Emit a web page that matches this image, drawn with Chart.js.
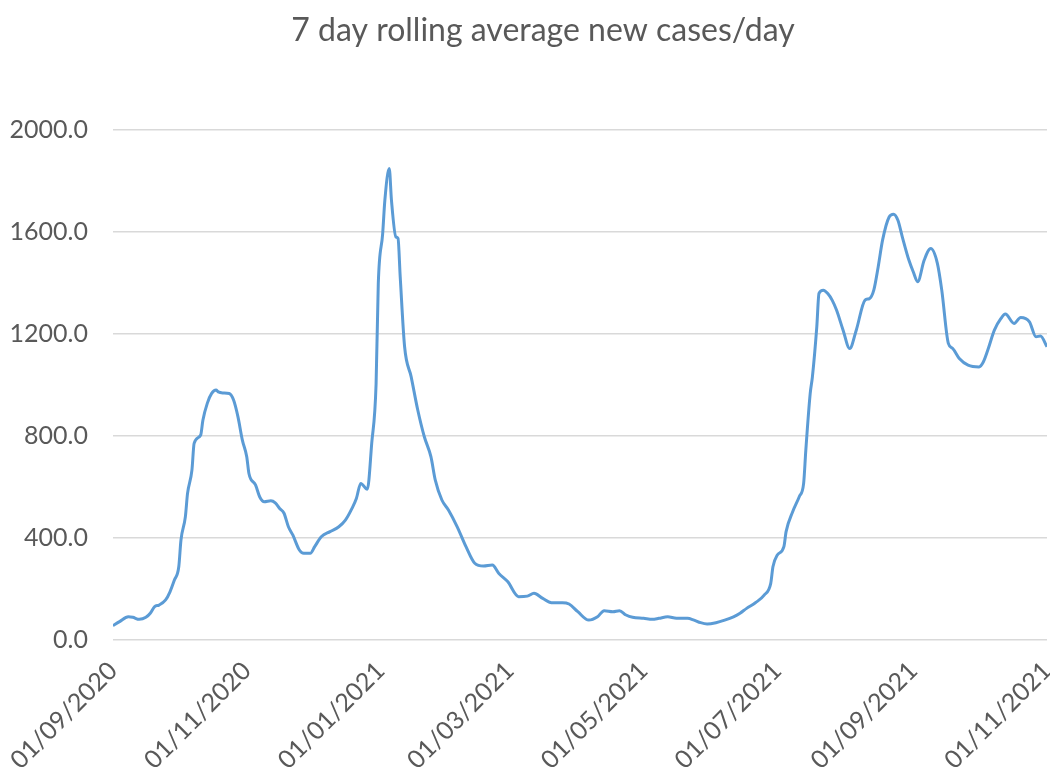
<!DOCTYPE html>
<html>
<head>
<meta charset="utf-8">
<script src="https://cdn.jsdelivr.net/npm/chart.js@4.4.0/dist/chart.umd.min.js"></script>
<style>
  html, body { margin: 0; padding: 0; background: #ffffff; }
  #wrap { width: 1050px; height: 775px; position: relative; }
</style>
</head>
<body>
<div id="wrap"><canvas id="chart" width="1050" height="775"></canvas></div>
<script>
// Days counted from 01/09/2020, with the 7-day rolling average on those days
const caseDays = [
  0, 3, 7, 9, 12, 15, 17, 19, 21, 24, 26, 28, 30, 31, 33, 34, 36, 37, 40, 41,
  43, 45, 47, 48, 50, 53, 55, 57, 59, 61, 62, 65, 67, 69, 72, 74, 76, 78, 80, 82,
  85, 87, 90, 92, 95, 99, 103, 106, 109, 111, 113, 116, 118, 120, 121, 123, 124, 126, 127, 129,
  130, 131, 133, 136, 139, 142, 145, 147, 150, 153, 157, 161, 165, 169, 173, 176, 180, 185, 189, 192,
  196, 200, 205, 208, 212, 217, 221, 224, 228, 231, 234, 237, 242, 246, 249, 253, 257, 262, 265, 268,
  271, 275, 279, 283, 286, 289, 293, 297, 300, 301, 303, 306, 307, 310, 313, 315, 316, 318, 319, 321,
  322, 324, 326, 328, 330, 333, 336, 339, 343, 345, 347, 349, 351, 354, 356, 358, 360, 363, 365, 367,
  370, 373, 376, 378, 381, 383, 386, 390, 395, 397, 399, 402, 405, 407, 411, 414, 418, 421, 423, 426
];
const caseValues = [
  56, 72, 91, 89, 81, 89, 105, 131, 137, 157, 189, 235, 287, 392, 483, 575, 666, 771, 804, 862,
  928, 967, 980, 973, 969, 967, 941, 875, 784, 719, 653, 608, 560, 542, 546, 538, 516, 497, 444, 412,
  353, 340, 340, 366, 405, 425, 444, 470, 516, 555, 614, 591, 771, 1006, 1398, 1594, 1725, 1849, 1725, 1581,
  1575, 1424, 1150, 1032, 902, 797, 719, 627, 549, 510, 444, 366, 301, 290, 294, 261, 229, 170, 172, 183,
  163, 146, 146, 141, 111, 78, 91, 115, 111, 115, 98, 89, 85, 81, 85, 91, 85, 85, 78, 68,
  63, 68, 78, 91, 105, 124, 146, 176, 222, 287, 333, 366, 425, 503, 562, 614, 745, 967, 1032, 1228,
  1359, 1372, 1359, 1333, 1294, 1215, 1143, 1215, 1333, 1339, 1372, 1463, 1568, 1659, 1670, 1646, 1581, 1490, 1444, 1405,
  1490, 1535, 1477, 1372, 1163, 1143, 1104, 1078, 1071, 1091, 1137, 1215, 1261, 1278, 1241, 1265, 1248, 1189, 1192, 1150
];

// Month starts shown on the date axis
const tickDays = [0, 61, 122, 181, 242, 303, 365, 426];
const tickLabels = ['01/09/2020', '01/11/2020', '01/01/2021', '01/03/2021',
                    '01/05/2021', '01/07/2021', '01/09/2021', '01/11/2021'];
const yTicks = [0, 400, 800, 1200, 1600, 2000];
const chartTitle = '7 day rolling average new cases/day';

const textColor = '#595959';
const fontFamily = 'Lato, "Open Sans", sans-serif';

const points = caseDays.map((d, i) => ({ x: d, y: caseValues[i] }));

// Title drawn a little right of the canvas centre, over the plot
const titlePlugin = {
  id: 'chartTitle',
  afterDraw(chart) {
    const ctx = chart.ctx;
    ctx.save();
    ctx.fillStyle = textColor;
    ctx.font = '32px ' + fontFamily;
    ctx.textAlign = 'center';
    ctx.textBaseline = 'middle';
    ctx.fillText(chartTitle, 543, 31);
    ctx.restore();
  }
};

new Chart(document.getElementById('chart'), {
  type: 'line',
  data: {
    datasets: [{
      data: points,
      borderColor: '#5B9BD5',
      borderWidth: 3,
      pointRadius: 0,
      cubicInterpolationMode: 'monotone',
      fill: false
    }]
  },
  plugins: [titlePlugin],
  options: {
    responsive: false,
    animation: false,
    events: [],
    layout: { padding: { left: 0, right: 3, top: 130, bottom: 0 } },
    plugins: {
      legend: { display: false },
      tooltip: { enabled: false },
      title: { display: false }
    },
    scales: {
      x: {
        type: 'linear',
        min: 0,
        max: 426,
        grid: { display: false },
        border: { display: false },
        afterBuildTicks: s => { s.ticks = tickDays.map(v => ({ value: v })); },
        afterFit: s => { s.height = 135; s.paddingLeft = 0; s.paddingRight = 0; },
        ticks: {
          autoSkip: false,
          minRotation: 45,
          maxRotation: 45,
          padding: 8,
          color: textColor,
          font: { family: fontFamily, size: 25 },
          callback: v => tickLabels[tickDays.indexOf(v)]
        }
      },
      y: {
        min: 0,
        max: 2000,
        afterBuildTicks: s => { s.ticks = yTicks.map(v => ({ value: v })); },
        afterFit: s => { s.width = 113; s.paddingTop = 0; s.paddingBottom = 0; },
        grid: { color: '#d9d9d9', lineWidth: 1.5, drawTicks: false },
        border: { display: false },
        ticks: {
          padding: 25,
          color: textColor,
          font: { family: fontFamily, size: 25 },
          callback: v => Number(v).toFixed(1)
        }
      }
    }
  }
});
</script>
</body>
</html>
